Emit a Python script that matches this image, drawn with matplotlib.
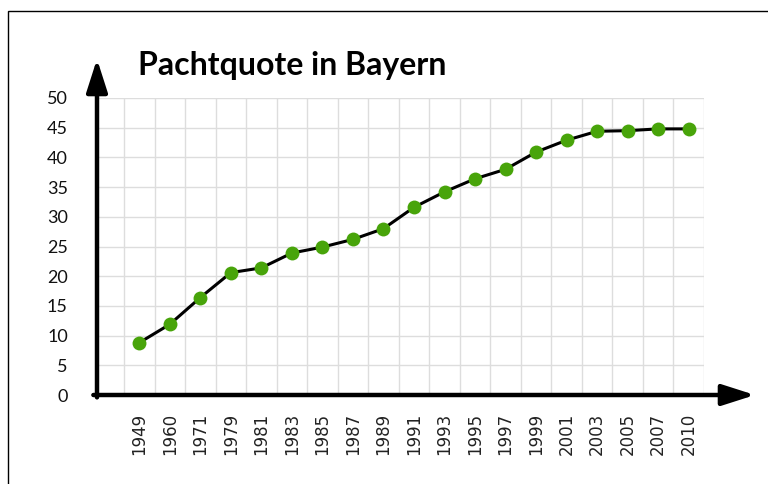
import matplotlib
matplotlib.use("Agg")
import matplotlib.pyplot as plt
from matplotlib.patches import Rectangle

years = ["1949", "1960", "1971", "1979", "1981", "1983", "1985", "1987", "1989", "1991",
         "1993", "1995", "1997", "1999", "2001", "2003", "2005", "2007", "2010"]
quote = [8.8, 11.9, 16.4, 20.6, 21.4, 23.9, 24.9, 26.2, 28.0, 31.6,
         34.2, 36.4, 38.0, 40.9, 42.9, 44.4, 44.5, 44.8, 44.8]
yticks = list(range(0, 51, 5))

W, H = 768, 484
fig = plt.figure(figsize=(W / 100, H / 100), dpi=100)
fig.patch.set_facecolor("white")

# outer frame (clipped at right/bottom)
fig.add_artist(Rectangle((8 / W, -0.2), 2, 1.2 - 11 / H, transform=fig.transFigure,
                         fill=False, edgecolor="black", lw=1.0))

left, right, top, bottom = 97, 704, 98, 395
ax = fig.add_axes([left / W, (H - bottom) / H, (right - left) / W, (bottom - top) / H])

x = list(range(len(years)))
ax.set_xlim(-1.384, len(years) - 0.5)
ax.set_ylim(0, 50)

for s in ax.spines.values():
    s.set_visible(False)

# grid
for yv in yticks:
    ax.axhline(yv, color="#dddddd", lw=1.0, zorder=1)
for k in range(len(years)):
    ax.axvline(k - 0.5, color="#dddddd", lw=1.0, zorder=1)
ax.axvline(len(years) - 0.5, color="#dddddd", lw=1.0, zorder=1)

ax.plot(x, quote, color="black", lw=2.2, zorder=3)
ax.plot(x, quote, "o", color="#48a40a", markersize=10, markeredgewidth=0, zorder=4)

ax.set_yticks(yticks)
ax.set_yticklabels([str(v) for v in yticks], fontsize=13, family="Lato", color="#111111")
ax.set_xticks(x)
ax.set_xticklabels(years, rotation=90, fontsize=12, family="DejaVu Sans", color="#222222", va="top")
ax.tick_params(axis="both", length=0)
ax.tick_params(axis="y", pad=21)
ax.tick_params(axis="x", pad=13)

# axes arrows
xend = (755 - left) / (right - left)
yend = (bottom - 59) / (bottom - top)
style = "-|>,head_length=1.0,head_width=0.32"
ax.annotate("", xy=(xend, 0), xytext=(-0.006, 0), xycoords="axes fraction",
            arrowprops=dict(arrowstyle=style, lw=3.2,
                            color="black", shrinkA=0, shrinkB=0, mutation_scale=20),
            annotation_clip=False, zorder=5)
ax.annotate("", xy=(0, yend), xytext=(0, -0.008), xycoords="axes fraction",
            arrowprops=dict(arrowstyle=style, lw=3.2,
                            color="black", shrinkA=0, shrinkB=0, mutation_scale=20),
            annotation_clip=False, zorder=5)

fig.text(138 / W, (H - 66) / H, "Pachtquote in Bayern", fontsize=23, fontweight="bold",
         family="Lato", ha="left", va="center", color="black")

fig.savefig("out.png", dpi=100, facecolor="white")
